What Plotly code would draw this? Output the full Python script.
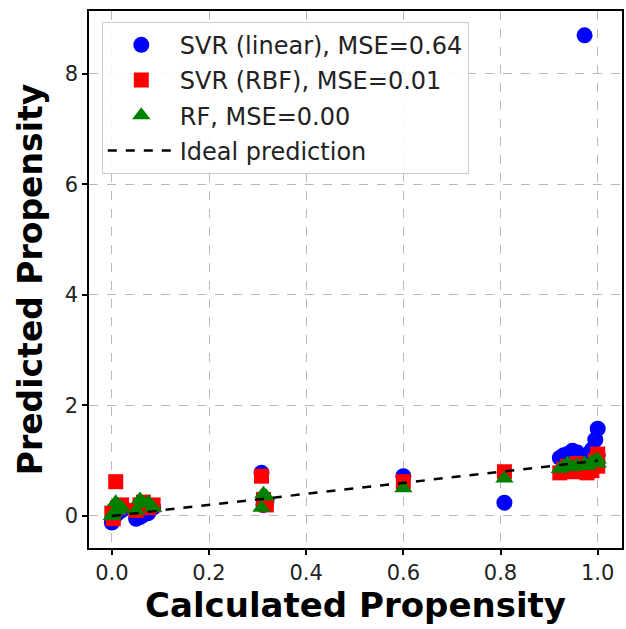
import plotly.graph_objects as go

calc = [0.000, 0.003, 0.008, 0.012, 0.020, 0.050, 0.058, 0.065, 0.075, 0.085,
        0.308, 0.312, 0.318, 0.600, 0.808, 0.922, 0.930, 0.938, 0.948, 0.958,
        0.973, 0.978, 0.988, 0.995, 1.000, 1.000]
svr_linear = [-0.12, -0.05, 0.02, 0.05, 0.10, -0.05, -0.02, 0.02, 0.05, 0.15,
              0.78, 0.20, 0.25, 0.72, 0.24, 1.05, 1.10, 1.12, 1.18, 1.15,
              8.70, 1.05, 1.20, 1.38, 1.58, 1.10]
svr_rbf = [0.05, -0.05, 0.62, 0.15, 0.20, 0.10, 0.20, 0.25, 0.15, 0.20,
           0.72, 0.30, 0.20, 0.62, 0.80, 0.78, 0.85, 0.90, 0.80, 0.95,
           0.85, 0.78, 0.82, 1.00, 1.12, 0.90]
rf = [0.00, 0.05, 0.25, 0.10, 0.15, 0.10, 0.30, 0.22, 0.25, 0.15,
      0.15, 0.40, 0.35, 0.50, 0.68, 0.85, 0.90, 0.95, 0.88, 0.92,
      0.95, 0.90, 0.98, 1.00, 0.95, 1.02]
names = ["SVR (linear), MSE=0.64", "SVR (RBF), MSE=0.01", "RF, MSE=0.00", "Ideal prediction"]
x_ticks = [0.0, 0.2, 0.4, 0.6, 0.8, 1.0]
y_ticks = [0, 2, 4, 6, 8]

fig = go.Figure()
fig.add_trace(go.Scatter(x=calc, y=svr_linear, mode="markers", name=names[0], legendgroup="a",
                         marker=dict(symbol="circle", color="blue", size=16)))
fig.add_trace(go.Scatter(x=calc, y=svr_rbf, mode="markers", name=names[1], legendgroup="b",
                         marker=dict(symbol="square", color="red", size=15)))
fig.add_trace(go.Scatter(x=calc, y=rf, mode="markers", name=names[2], legendgroup="c",
                         marker=dict(symbol="triangle-up", color="green", size=16)))
lo, hi = min(calc), max(calc)
fig.add_trace(go.Scatter(x=[lo, hi], y=[lo, hi], mode="lines", name=names[3], legendgroup="d",
                         line=dict(color="black", width=2.5, dash="dash")))

axis_common = dict(
    showline=True, linecolor="black", linewidth=1.5, mirror=True,
    ticks="outside", ticklen=5, tickwidth=1.5, tickcolor="black",
    showgrid=True, gridcolor="#b8b8b8", griddash="dash", gridwidth=1,
    zeroline=False,
    tickfont=dict(family="DejaVu Sans", size=21, color="#222"),
)
fig.update_xaxes(range=[-0.047, 1.05], tickvals=x_ticks, ticktext=["0.0", "0.2", "0.4", "0.6", "0.8", "1.0"],
                 title=dict(text="<b>Calculated Propensity</b>", font=dict(family="DejaVu Sans", size=34, color="black"), standoff=6),
                 **axis_common)
fig.update_yaxes(range=[-0.58, 9.14], tickvals=y_ticks,
                 title=dict(text="<b>Predicted Propensity</b>", font=dict(family="DejaVu Sans", size=33, color="black"), standoff=12),
                 **axis_common)

fig.update_layout(
    width=626, height=629,
    margin=dict(l=89, r=2, t=11, b=81),
    plot_bgcolor="white", paper_bgcolor="white",
    legend=dict(x=0.024, y=0.98, xanchor="left", yanchor="top",
                bgcolor="rgba(255,255,255,0.85)", bordercolor="#cccccc", borderwidth=1,
                font=dict(family="DejaVu Sans", size=24, color="#222"),
                tracegroupgap=1, itemwidth=67),
)

fig.write_html("out.html")
